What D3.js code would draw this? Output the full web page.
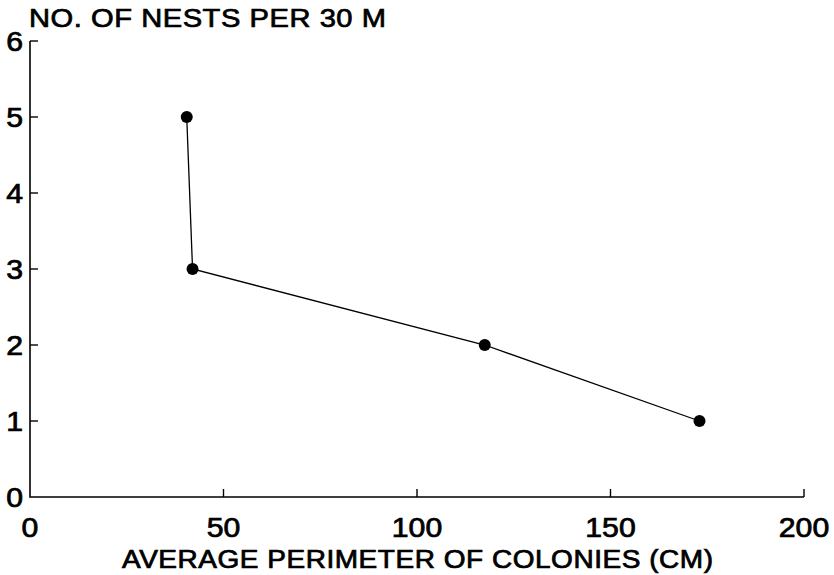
<!DOCTYPE html>
<html>
<head>
<meta charset="utf-8">
<script src="https://cdn.jsdelivr.net/npm/d3@7"></script>
<style>
  html, body { margin: 0; padding: 0; background: #fff; }
  svg { display: block; }
  text { font-family: "Liberation Sans", Arial, sans-serif; fill: #000; stroke: #000; stroke-width: 0.75px; }
</style>
</head>
<body>
<svg id="chart" width="834" height="575"></svg>
<script>
// Data
const perimeter = [40.5, 42, 117.5, 173];   // average perimeter of colonies (cm)
const nests = [5, 3, 2, 1];                 // no. of nests per 30 m
const xTicks = [0, 50, 100, 150, 200];
const yTicks = [0, 1, 2, 3, 4, 5, 6];
const titleText = "NO. OF NESTS PER 30 M";
const xLabelText = "AVERAGE PERIMETER OF COLONIES (CM)";

const svg = d3.select("#chart");
const x = d3.scaleLinear().domain([0, 200]).range([30, 804]);
const y = d3.scaleLinear().domain([0, 6]).range([497, 41]);
const SX = 1.12; // horizontal stretch of the lettering

const points = perimeter.map((p, i) => ({ x: p, y: nests[i] }));

// axis lines
svg.append("path")
  .attr("d", `M${x(0)},${y(6)}V${y(0)}H${x(200)}`)
  .attr("fill", "none").attr("stroke", "#000").attr("stroke-width", 1.6);

// y ticks (inward, to the right)
svg.selectAll(".ytick").data(yTicks.filter(d => d > 0)).join("line")
  .attr("x1", x(0)).attr("x2", x(0) + 8)
  .attr("y1", d => y(d)).attr("y2", d => y(d))
  .attr("stroke", "#000").attr("stroke-width", 1.4);

// x ticks (inward, upward)
svg.selectAll(".xtick").data(xTicks.filter(d => d > 0)).join("line")
  .attr("x1", d => x(d)).attr("x2", d => x(d))
  .attr("y1", y(0)).attr("y2", y(0) - 8)
  .attr("stroke", "#000").attr("stroke-width", 1.4);

// y tick labels
svg.selectAll(".ylab").data(yTicks).join("text")
  .attr("transform", d => `translate(${x(0) - 7},${y(d) + 10}) scale(${SX},1)`)
  .attr("text-anchor", "end")
  .attr("font-size", 27)
  .text(d => d);

// x tick labels
svg.selectAll(".xlab").data(xTicks).join("text")
  .attr("transform", d => `translate(${x(d)},537) scale(${SX},1)`)
  .attr("text-anchor", "middle")
  .attr("font-size", 27)
  .text(d => d);

// title
svg.append("text")
  .attr("transform", `translate(29,27) scale(${SX},1)`)
  .attr("font-size", 26)
  .attr("textLength", 357 / SX).attr("lengthAdjust", "spacing")
  .text(titleText);

// x label
svg.append("text")
  .attr("transform", `translate(122,568) scale(${SX},1)`)
  .attr("font-size", 25)
  .attr("textLength", 591 / SX).attr("lengthAdjust", "spacing")
  .text(xLabelText);

// line
const line = d3.line().x(d => x(d.x)).y(d => y(d.y));
svg.append("path").datum(points)
  .attr("d", line)
  .attr("fill", "none").attr("stroke", "#000").attr("stroke-width", 1.3);

// dots
svg.selectAll(".dot").data(points).join("circle")
  .attr("cx", d => x(d.x)).attr("cy", d => y(d.y))
  .attr("r", 6).attr("fill", "#000");
</script>
</body>
</html>
